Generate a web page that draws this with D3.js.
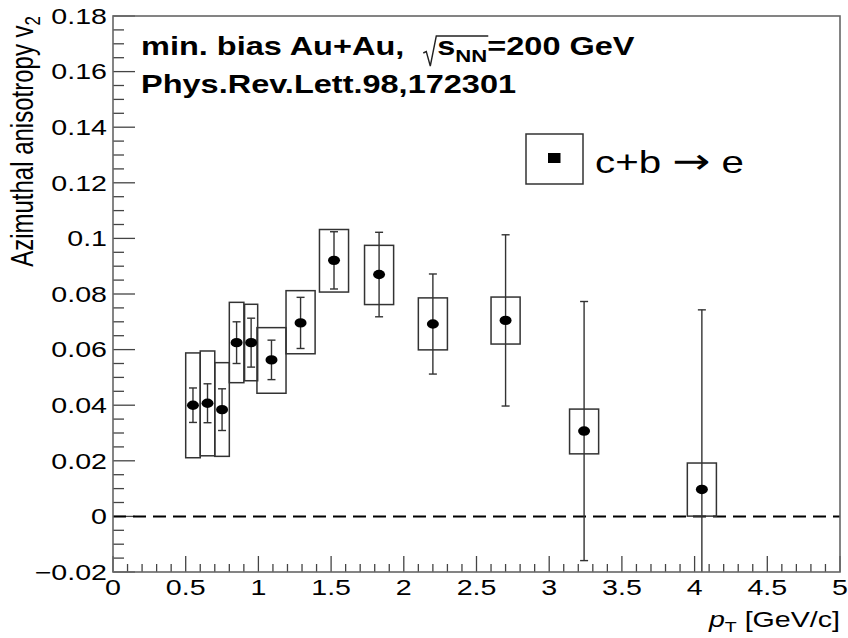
<!DOCTYPE html>
<html>
<head>
<meta charset="utf-8">
<script src="https://cdn.jsdelivr.net/npm/d3@7/dist/d3.min.js"></script>
<style>
  html, body { margin: 0; padding: 0; background: #fff; }
  .canvas { width: 848px; height: 638px; }
  text { font-family: "Liberation Sans", Arial, Helvetica, sans-serif; fill: #000; }
</style>
</head>
<body>
<div class="canvas" id="canvas"></div>
<script>
// c+b -> e v2 vs pT
var pt      = [0.55, 0.65, 0.75, 0.85, 0.95, 1.09, 1.29, 1.52, 1.83, 2.20, 2.70, 3.24, 4.05];
var v2      = [0.0400, 0.0407, 0.0384, 0.0625, 0.0625, 0.0563, 0.0696, 0.0921, 0.0870, 0.0692, 0.0705, 0.0307, 0.0097];
var statErr = [0.0062, 0.0070, 0.0075, 0.0075, 0.0088, 0.0071, 0.0092, 0.0103, 0.0152, 0.0180, 0.0308, 0.0466, 0.0646];
var sysHigh = [0.0588, 0.0595, 0.0553, 0.0770, 0.0763, 0.0679, 0.0812, 0.1032, 0.0975, 0.0786, 0.0789, 0.0386, 0.0192];
var sysLow  = [0.0211, 0.0218, 0.0216, 0.0481, 0.0488, 0.0443, 0.0585, 0.0807, 0.0762, 0.0599, 0.0620, 0.0225, 0.0001];
var sysWid  = [0.10, 0.10, 0.10, 0.10, 0.09, 0.20, 0.20, 0.20, 0.20, 0.20, 0.20, 0.20, 0.20];

var xTickLabels = [0, 0.5, 1, 1.5, 2, 2.5, 3, 3.5, 4, 4.5, 5];
var yTickLabels = [-0.02, 0, 0.02, 0.04, 0.06, 0.08, 0.1, 0.12, 0.14, 0.16, 0.18];

var points = pt.map(function(p, i) {
    return {pt: p, v: v2[i], e: statErr[i], hi: sysHigh[i], lo: sysLow[i], bw: sysWid[i]};
});

var m = {t:16, r:8, b:66, l:113},
    W = 848, H = 638,
    w = W - m.l - m.r,
    h = H - m.t - m.b,
    sx = 1.3; // the original picture is stretched horizontally

var svg = d3.select('.canvas')
    .append('svg')
    .attr('width', W)
    .attr('height', H);

var plot = svg.append('g').attr('class', 'plot')
    .attr('transform', 'translate(' + m.l + ',' + m.t + ')');

var x = d3.scaleLinear().domain([0, 5]).range([0, w]);
var y = d3.scaleLinear().domain([-0.02, 0.18]).range([h, 0]);

plot.append('clipPath').attr('id', 'frameClip')
    .append('rect').attr('width', w).attr('height', h);

// ticks (inside the frame, left and bottom only)
var ink = '#444';
plot.selectAll('.ytick').data(y.ticks(40)).enter()
    .append('line').attr('class', 'ytick')
    .attr('x1', 0).attr('y1', function(d){ return y(d); })
    .attr('y2', function(d){ return y(d); })
    .attr('x2', function(d){
        return Math.abs(Math.round(d * 50) - d * 50) < 1e-6 ? 22 : 11;
    })
    .attr('stroke', ink).attr('stroke-width', 1.3);

plot.selectAll('.xtick').data(x.ticks(50)).enter()
    .append('line').attr('class', 'xtick')
    .attr('y1', h).attr('x1', function(d){ return x(d); })
    .attr('x2', function(d){ return x(d); })
    .attr('y2', function(d){
        return Math.abs(Math.round(d * 2) - d * 2) < 1e-6 ? h - 16 : h - 8;
    })
    .attr('stroke', ink).attr('stroke-width', 1.3);

// tick labels
var yFmt = function(d){ return d === 0 ? '0' : d3.format('~g')(d).replace('-', '\u2212'); };
plot.selectAll('.ylab').data(yTickLabels).enter()
    .append('text').attr('class', 'ylab')
    .attr('transform', function(d){ return 'translate(-6,' + (y(d) + 7.8) + ') scale(' + sx + ',1)'; })
    .attr('text-anchor', 'end')
    .style('font-size', '22px')
    .text(yFmt);

plot.selectAll('.xlab').data(xTickLabels).enter()
    .append('text').attr('class', 'xlab')
    .attr('transform', function(d){ return 'translate(' + x(d) + ',' + (h + 23) + ') scale(' + sx + ',1)'; })
    .attr('text-anchor', 'middle')
    .style('font-size', '22px')
    .text(function(d){ return String(d); });

// zero line
plot.append('line')
    .attr('x1', 0).attr('x2', w)
    .attr('y1', y(0)).attr('y2', y(0))
    .attr('stroke', '#000').attr('stroke-width', 2)
    .attr('stroke-dasharray', '13,7');

var data = plot.append('g').attr('clip-path', 'url(#frameClip)');

// systematic boxes
data.selectAll('.sys').data(points).enter()
    .append('rect').attr('class', 'sys')
    .attr('x', function(d){ return x(d.pt - d.bw / 2); })
    .attr('width', function(d){ return x(d.pt + d.bw / 2) - x(d.pt - d.bw / 2); })
    .attr('y', function(d){ return y(d.hi); })
    .attr('height', function(d){ return y(d.lo) - y(d.hi); })
    .attr('fill', 'none').attr('stroke', '#333').attr('stroke-width', 1.5);

// statistical error bars
data.selectAll('.err').data(points).enter()
    .append('line').attr('class', 'err')
    .attr('x1', function(d){ return x(d.pt); })
    .attr('x2', function(d){ return x(d.pt); })
    .attr('y1', function(d){ return y(d.v + d.e); })
    .attr('y2', function(d){ return y(d.v - d.e); })
    .attr('stroke', '#333').attr('stroke-width', 1.4);

var caps = [];
points.forEach(function(d){ caps.push({pt: d.pt, v: d.v + d.e}, {pt: d.pt, v: d.v - d.e}); });
data.selectAll('.cap').data(caps).enter()
    .append('line').attr('class', 'cap')
    .attr('x1', function(d){ return x(d.pt) - 4; })
    .attr('x2', function(d){ return x(d.pt) + 4; })
    .attr('y1', function(d){ return y(d.v); })
    .attr('y2', function(d){ return y(d.v); })
    .attr('stroke', '#333').attr('stroke-width', 1.4);

// markers
data.selectAll('.pt').data(points).enter()
    .append('ellipse').attr('class', 'pt')
    .attr('cx', function(d){ return x(d.pt); })
    .attr('cy', function(d){ return y(d.v); })
    .attr('rx', 6).attr('ry', 4.7)
    .attr('fill', '#000');

// frame
plot.append('rect')
    .attr('width', w).attr('height', h)
    .attr('fill', 'none').attr('stroke', '#666').attr('stroke-width', 1.6);

// axis titles
var yt = svg.append('text')
    .attr('transform', 'translate(33,' + m.t + ') rotate(-90) scale(1,' + sx + ')')
    .attr('text-anchor', 'end')
    .style('font-size', '24px');
yt.append('tspan').text('Azimuthal anisotropy v');
yt.append('tspan').attr('dy', 5).style('font-size', '17px').text('2');

var xt = svg.append('text')
    .attr('transform', 'translate(' + (W - m.r) + ',627) scale(' + sx + ',1)')
    .attr('text-anchor', 'end')
    .style('font-size', '22px');
xt.append('tspan').style('font-style', 'italic').text('p');
xt.append('tspan').attr('dy', 5).style('font-size', '15px').text('T');
xt.append('tspan').attr('dy', -5).text(' [GeV/c]');

// header text, built piece by piece so the radical can be drawn
var cx = 141;
function piece(txt, size, yy) {
    var t = svg.append('text')
        .attr('transform', 'translate(' + cx + ',' + yy + ') scale(' + sx + ',1)')
        .style('font-size', size + 'px').style('font-weight', 'bold')
        .text(txt);
    cx += t.node().getComputedTextLength() * sx;
    return t;
}
piece('min. bias Au+Au,', 25, 55);
cx += 20;
var r0 = cx;
cx += 13;
var s0 = cx;
piece('s', 25, 55);
piece('NN', 17, 62);
svg.append('path')
    .attr('d', 'M' + (r0 - 1) + ',53 L' + (r0 + 2) + ',51.5 L' + (r0 + 6) + ',66 L' + (s0 - 1) + ',36 L' + (cx + 1) + ',36')
    .attr('fill', 'none').attr('stroke', '#222').attr('stroke-width', 1.4);
piece('=200 GeV', 25, 55);
cx = 141;
piece('Phys.Rev.Lett.98,172301', 25, 93);

// legend
svg.append('rect')
    .attr('x', 526).attr('y', 134).attr('width', 57).attr('height', 50)
    .attr('fill', '#fff').attr('stroke', '#333').attr('stroke-width', 1.5);
svg.append('rect')
    .attr('x', 548).attr('y', 153).attr('width', 12.5).attr('height', 10)
    .attr('fill', '#000');
var lt = svg.append('text')
    .attr('transform', 'translate(595,173) scale(' + sx + ',1)')
    .style('font-size', '31px');
lt.append('tspan').text('c+b ');
lt.append('tspan').style('font-family', '"DejaVu Sans"').style('font-size', '35px').text('\u2192');
lt.append('tspan').text(' e');
</script>
</body>
</html>
